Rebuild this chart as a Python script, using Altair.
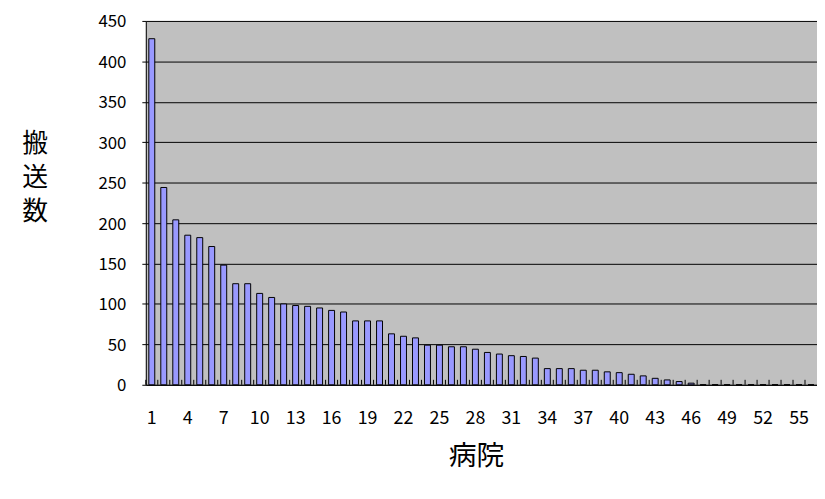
import altair as alt
import pandas as pd

hospitals = list(range(1, 57))
counts = [428, 244, 204, 185, 182, 171, 148, 125, 125, 113, 108, 100, 98, 97, 95, 92,
          90, 79, 79, 79, 63, 60, 58, 49, 49, 47, 47, 44, 40, 38, 36, 35, 33, 20, 20,
          20, 18, 18, 16, 15, 13, 11, 8, 6, 4, 2] + [0] * 10
label_values = list(range(1, 57, 3))
y_ticks = list(range(0, 451, 50))

df = pd.DataFrame({"hospital": hospitals, "count": counts})

FONT = "Noto Sans CJK JP"
W, H = 677, 367

x_scale = alt.Scale(domain=hospitals, paddingInner=0, paddingOuter=0)

bars = alt.Chart(df).mark_bar(
    size=6, color="#9999FF", stroke="#000000", strokeWidth=1
).encode(
    x=alt.X("hospital:O", scale=x_scale, sort=hospitals,
            axis=alt.Axis(values=label_values, labelAngle=0, tickSize=0,
                          labelPadding=25, labelFontSize=18, labelFont=FONT,
                          labelColor="#000000", domainColor="#000000",
                          title="病院", titleFont=FONT, titleFontSize=28,
                          titleFontWeight="normal", titleColor="#000000",
                          titleBaseline="middle", titleY=72, titleX=333,
                          grid=False)),
    y=alt.Y("count:Q", scale=alt.Scale(domain=[0, 450], nice=False),
            axis=alt.Axis(values=y_ticks, tickSize=4, tickColor="#000000",
                          labelPadding=16, labelFontSize=17, labelFont=FONT,
                          labelOffset=1,
                          labelColor="#000000", domainColor="#000000",
                          gridColor="#000000", gridOpacity=1, gridWidth=1,
                          title=["搬", "送", "数"], titleAngle=0,
                          titleFont=FONT, titleFontSize=26,
                          titleFontWeight="normal", titleColor="#000000",
                          titleLineHeight=34, titleAlign="center",
                          titleBaseline="top", titleX=-112, titleY=111)),
)

ticks = alt.Chart(df).mark_rule(color="#000000", strokeWidth=1).encode(
    x=alt.X("hospital:O", scale=x_scale, sort=hospitals, bandPosition=0),
    y=alt.value(H),
    y2=alt.value(H - 5),
)

chart = alt.layer(bars, ticks).properties(
    width=W, height=H,
    autosize=alt.AutoSizeParams(type="none"),
    padding={"left": 139, "top": 11, "right": 0, "bottom": 94},
    background="#FFFFFF",
).configure_view(
    fill="#C0C0C0", stroke=None
)

chart.save("out.html", embed_options={"renderer": "svg", "actions": False})
